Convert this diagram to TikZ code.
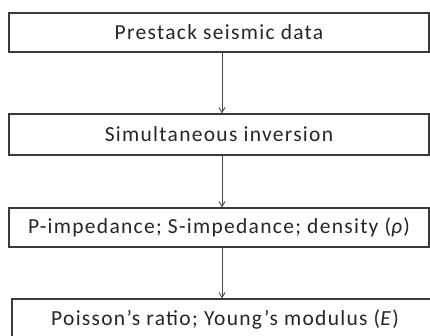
\documentclass[tikz,border=0pt]{standalone}
\usepackage{fontspec}
\setmainfont{Carlito}[LetterSpace=6]
\usepackage{tikz}
\usetikzlibrary{arrows.meta, positioning}
\definecolor{boxline}{HTML}{3A3A3A}
\definecolor{flowline}{HTML}{4A4A4A}

\begin{document}
\begin{tikzpicture}[
    x=1pt, y=-1pt,
    every node/.style={font=\fontsize{21.5}{25}\selectfont, text=black!85},
    stage/.style={rectangle, draw=boxline, fill=white, line width=1.3pt, minimum width=420pt, inner sep=0pt},
    flow/.style={-{Straight Barb[length=5pt, width=6pt]}, line width=0.9pt, color=flowline}
]
\useasboundingbox (0,0) rectangle (430,335);
\clip (0,0) rectangle (430,335);

% Stages
\node[stage, minimum height=39pt] (data) at (219,32.5)  {Prestack seismic data};
\node[stage, minimum height=41pt] (inv)  at (219,134.5) {Simultaneous inversion};
\node[stage, minimum height=39pt] (imp)  at (219,227.5) {P-impedance; S-impedance; density (\textit{ρ})};
\node[stage, minimum height=41pt, minimum width=426pt] (mod) at (225,319.5) {Poisson’s ratio; Young’s modulus (\textit{E})};

% Flows
\draw[flow] (data.south -| 222,0) -- (inv.north -| 222,0);
\draw[flow] (inv.south -| 222,0) -- (imp.north -| 222,0);
\draw[flow] (imp.south -| 222,0) -- (mod.north -| 222,0);
\end{tikzpicture}
\end{document}
